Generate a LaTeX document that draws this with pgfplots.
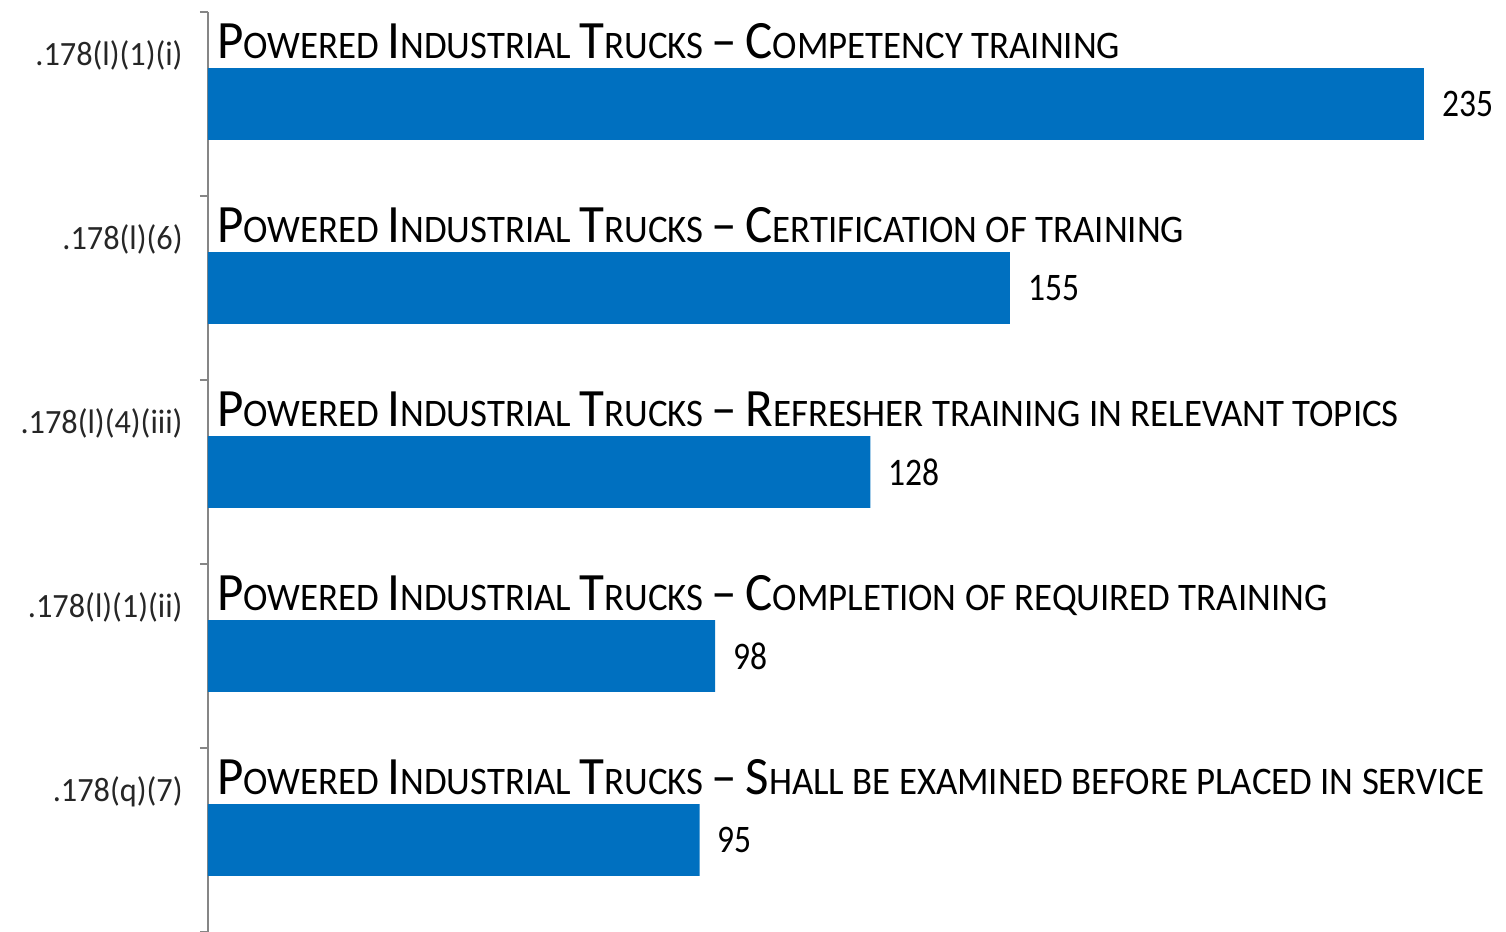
\documentclass[border=0pt]{standalone}
\usepackage{pgfplots}
\pgfplotsset{compat=1.18}
\usepackage{fontspec}
\setmainfont{Carlito}
\newfontfamily\tfont[FakeStretch=0.945,Ligatures=TeX]{Carlito}
\newfontfamily\vfont[FakeStretch=0.86]{Carlito}
\newfontfamily\lfont[FakeStretch=0.95]{Carlito}
\definecolor{barblue}{HTML}{0070C0}
\definecolor{axgray}{HTML}{868686}
\newcommand{\BC}[1]{{\fontsize{27pt}{27pt}\selectfont #1}}
\newcommand{\Title}[1]{{\tfont\fontsize{19.5pt}{19.5pt}\selectfont \BC{P}OWERED \BC{I}NDUSTRIAL \BC{T}RUCKS \BC{–} #1}}
\tikzset{
  lab/.style={anchor=base east, inner sep=0pt, xshift=-12.5pt, font=\lfont\fontsize{17pt}{17pt}\selectfont, text=black!85},
  ttl/.style={anchor=base west, inner sep=0pt, xshift=4.5pt},
}
\begin{document}
\begin{tikzpicture}
\begin{axis}[name=ax, at={(0,0)}, anchor=south west,
  scale only axis, width=646.75pt, height=460pt,
  xbar, bar width=0.39,
  xmin=0, xmax=250, ymin=-0.5, ymax=4.5, y dir=reverse,
  axis x line=none, axis y line*=left,
  y axis line style={axgray, line width=1pt},
  ytick={-0.5,0.5,1.5,2.5,3.5,4.5}, yticklabels={},
  major tick length=4pt, tick align=outside, tick pos=left,
  ytick style={axgray, line width=1pt},
  clip=false,
  nodes near coords,
  point meta=x,
  nodes near coords style={anchor=west, inner sep=0pt, xshift=9pt,
    font=\vfont\fontsize{19.5pt}{19.5pt}\selectfont, text=black,
    /pgf/number format/assume math mode=true},
]
\addplot[fill=barblue, draw=none] coordinates {(235,0) (155,1) (128,2) (98,3) (95,4)};

\node[lab] at (axis cs:0,-0.21) {.178(l)(1)(i)};
\node[lab] at (axis cs:0,0.79) {.178(l)(6)};
\node[lab] at (axis cs:0,1.79) {.178(l)(4)(iii)};
\node[lab] at (axis cs:0,2.79) {.178(l)(1)(ii)};
\node[lab] at (axis cs:0,3.79) {.178(q)(7)};
\node[ttl] at (axis cs:0,-0.25) {\Title{\BC{C}OMPETENCY TRAINING}};
\node[ttl] at (axis cs:0,0.75) {\Title{\BC{C}ERTIFICATION OF TRAINING}};
\node[ttl] at (axis cs:0,1.75) {\Title{\BC{R}EFRESHER TRAINING IN RELEVANT TOPICS}};
\node[ttl] at (axis cs:0,2.75) {\Title{\BC{C}OMPLETION OF REQUIRED TRAINING}};
\node[ttl] at (axis cs:0,3.75) {\Title{\BC{S}HALL BE EXAMINED BEFORE PLACED IN SERVICE}};
\end{axis}
\pgfresetboundingbox
\path[use as bounding box] (ax.south west) ++(-104pt,0pt) rectangle ++(753pt,466pt);
\end{tikzpicture}
\end{document}
